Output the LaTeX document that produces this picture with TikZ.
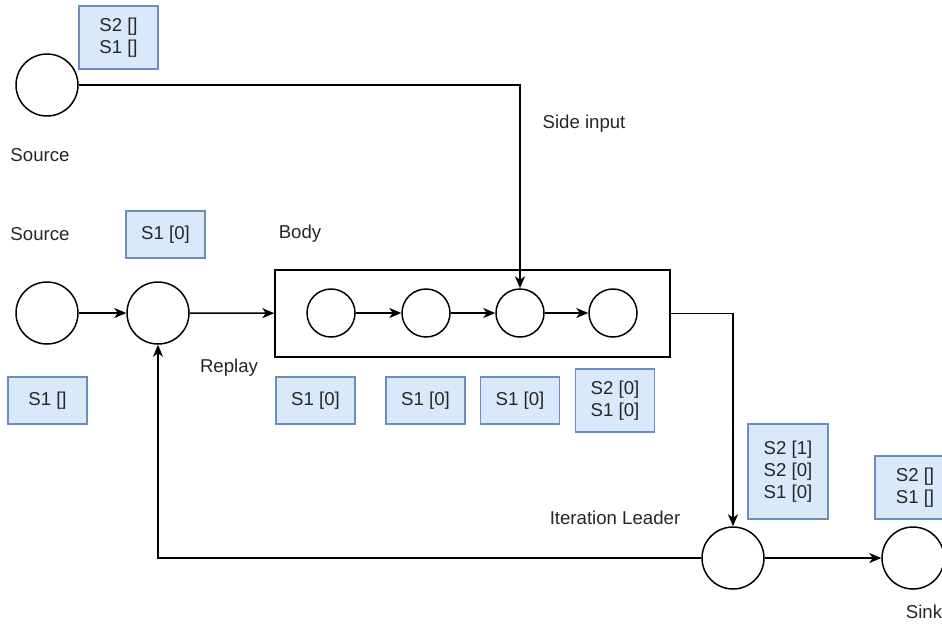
\documentclass[tikz,border=0pt]{standalone}
\usepackage{fontspec}
\setmainfont{Liberation Sans}
\usetikzlibrary{arrows.meta,positioning}
\definecolor{StateFill}{HTML}{DAE8FC}
\definecolor{StateLine}{HTML}{6C8EBF}
\tikzset{
  op/.style={draw, circle, line width=0.85pt, minimum size=12.4mm, inner sep=0pt},
  subop/.style={draw, circle, line width=0.85pt, minimum size=9.6mm, inner sep=0pt},
  frame/.style={draw, line width=0.85pt, minimum width=79mm, minimum height=17.4mm, inner sep=0pt},
  state/.style={draw=StateLine, fill=StateFill, line width=0.85pt, text=black!85, minimum width=15.8mm, minimum height=9.4mm, align=center, inner sep=0pt},
  lbl/.style={text=black!85, inner sep=0pt},
  arr/.style={-{Stealth[length=2.4mm,width=2mm,inset=0.7mm]}, line width=0.85pt}
}

\begin{document}
\begin{tikzpicture}[x=0.02cm, y=-0.02cm, font=\fontsize{10.6}{12.5}\selectfont]
\useasboundingbox (0,0) rectangle (942,623);
% side input source
\node[op] (src1) at (47,85) {};
\node[state, minimum height=12.6mm] (st1) at (118.5,37.5) {S2 []\\S1 []};
\node[lbl] (srclbl1) at (40,155) {Source};
\node[lbl] (side) at (584,124) {Side input};
% main source and replay
\node[lbl] (srclbl2) at (40,234) {Source};
\node[op] (src2) at (47,313) {};
\node[state] (st2) at (47.5,400.5) {S1 []};
\node[op] (replay) at (158,313) {};
\node[state] (st3) at (165.5,234.5) {S1 [0]};
\node[lbl] (replaylbl) at (229,368) {Replay};
% loop body
\node[lbl] (bodylbl) at (300,234) {Body};
\node[frame] (body) at (472.5,313.5) {};
\node[subop] (c1) at (331,313) {};
\node[subop] (c2) at (426,313) {};
\node[subop] (c3) at (520,313) {};
\node[subop] (c4) at (613,313) {};
\node[state] (st4) at (315.5,400.5) {S1 [0]};
\node[state] (st5) at (425.5,400.5) {S1 [0]};
\node[state] (st6) at (520,400.5) {S1 [0]};
\node[state, minimum height=12.6mm] (st7) at (615,400.5) {S2 [0]\\S1 [0]};
% iteration leader and sink
\node[lbl] (leaderlbl) at (615,518) {Iteration Leader};
\node[op] (leader) at (733,558) {};
\node[state, minimum width=16mm, minimum height=19mm] (st8) at (788,471.5) {S2 [1]\\S2 [0]\\S1 [0]};
\node[op] (sink) at (913,558) {};
\node[state, minimum width=16mm, minimum height=12.6mm] (st9) at (915,487.5) {S2 []\\S1 []};
\node[lbl] (sinklbl) at (924,612) {Sink};

\draw[arr] (src1.east) -| (c3.north);
\draw[arr] (src2) -- (replay);
\draw[arr] (replay) -- (body);
\draw[arr] (c1) -- (c2);
\draw[arr] (c2) -- (c3);
\draw[arr] (c3) -- (c4);
\draw[arr] (body.east) -| (leader.north);
\draw[arr] (leader) -- (sink);
\draw[arr] (leader.west) -| (replay.south);
\end{tikzpicture}
\end{document}
